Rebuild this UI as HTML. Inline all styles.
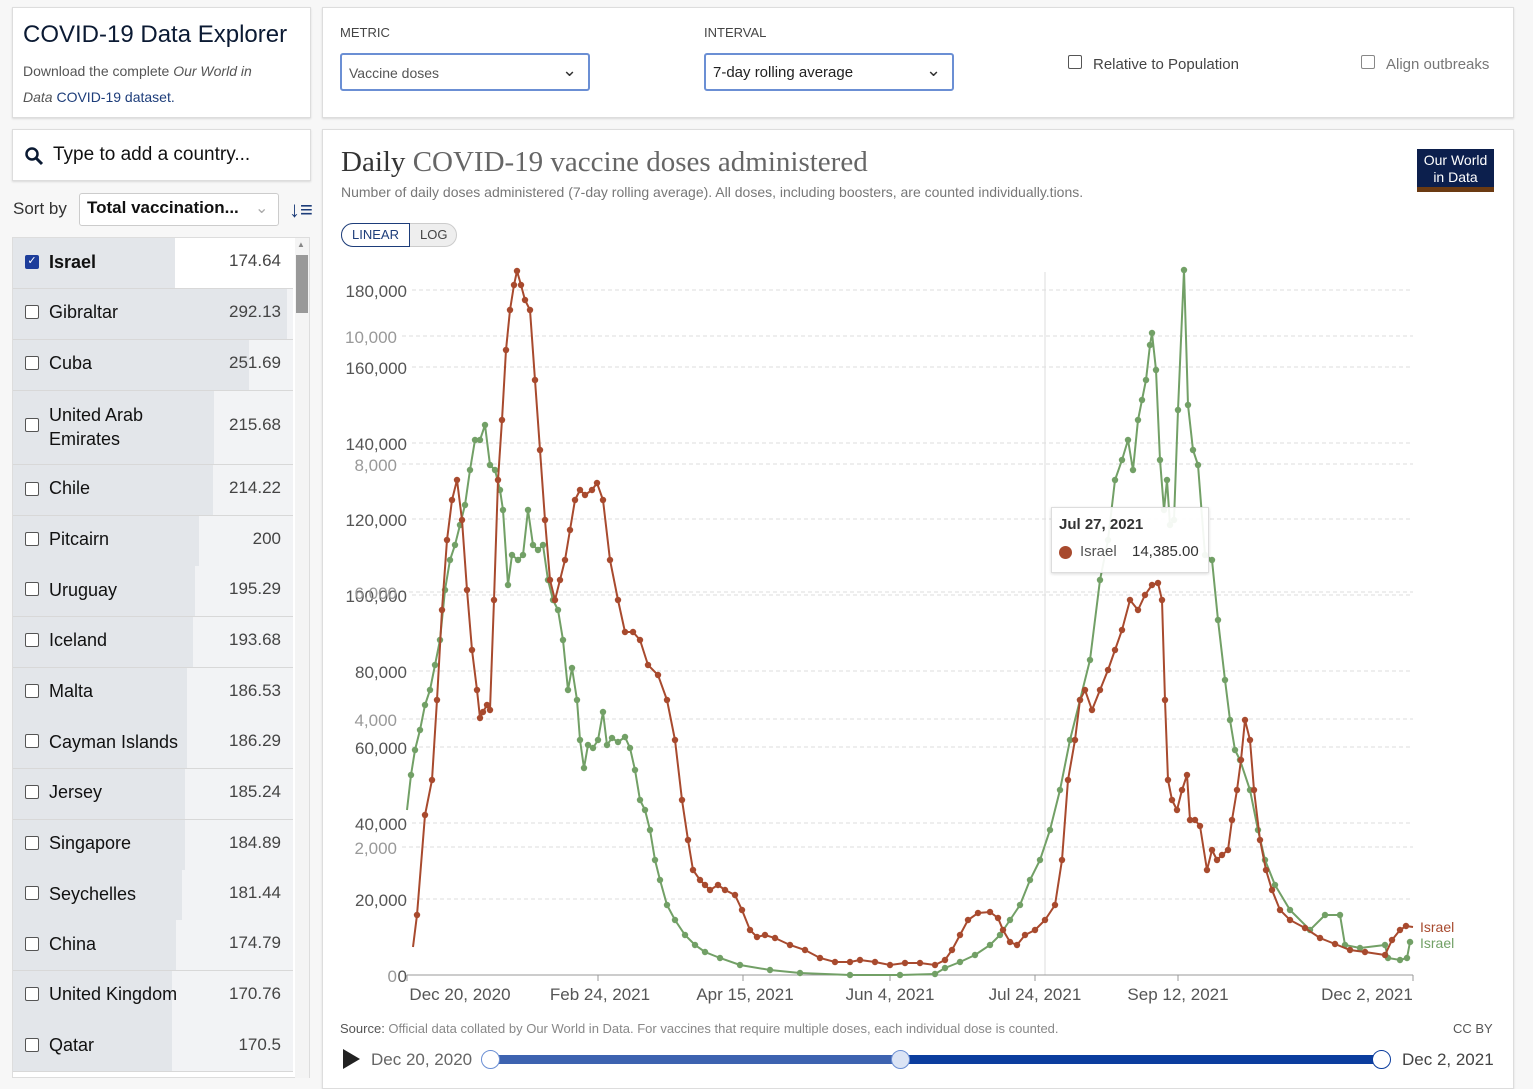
<!DOCTYPE html>
<html><head><meta charset="utf-8"><style>
*{box-sizing:border-box;margin:0;padding:0}
body{width:1533px;height:1078px;background:#f7f7f7;font-family:"Liberation Sans",sans-serif;position:relative;overflow:hidden;color:#222}
.p{position:absolute;background:#fff;border:1px solid #ddd;box-shadow:0 1px 2px rgba(0,0,0,.12)}
.a{position:absolute;white-space:nowrap}
.row{position:absolute;left:13px;width:280px;height:51px;background:#f2f3f5;border-bottom:1px solid #d8d8d8}
.bar{position:absolute;left:0;top:0;height:50px;background:#e3e6ea}
.cb{position:absolute;left:12px;width:14px;height:14px;border:1.5px solid #555;border-radius:2px;background:#fff}
.nm{position:absolute;left:36px;font-size:18px;color:#111}
.vl{position:absolute;right:12px;font-size:17px;color:#444}
.sel{position:absolute;border:2px solid #6b8fd4;border-radius:3px;background:#fff;height:38px}
</style></head><body>
<div class="p" style="left:12px;top:7px;width:299px;height:111px"></div>
<div class="a" style="left:23px;top:21px;font-size:24px;color:#0b1a33">COVID-19 Data Explorer</div>
<div class="a" style="left:23px;top:58px;font-size:14px;color:#555;line-height:26px">Download the complete <i>Our World in</i><br><i>Data</i> <span style="color:#1d3d7a">COVID-19 dataset.</span></div>
<div class="p" style="left:12px;top:129px;width:299px;height:52px"></div>
<svg class="a" style="left:24px;top:146px" width="20" height="20"><circle cx="8" cy="8" r="5.5" stroke="#0b1a33" stroke-width="2.5" fill="none"/><line x1="12" y1="12" x2="18" y2="18" stroke="#0b1a33" stroke-width="3"/></svg>
<div class="a" style="left:53px;top:144px;font-size:19px;color:#111">Type to add a country...</div>
<div class="a" style="left:13px;top:199px;font-size:17px;color:#333">Sort by</div>
<div class="a" style="left:79px;top:193px;width:200px;height:33px;background:#fff;border:1px solid #ccc;border-radius:3px"></div>
<div class="a" style="left:87px;top:198px;font-size:17px;font-weight:bold;color:#111">Total vaccination...</div>
<div class="a" style="left:255px;top:198px;font-size:16px;color:#aaa">&#8964;</div>
<div class="a" style="left:289px;top:197px;font-size:22px;font-weight:bold;color:#1d3d7a">&#8595;&#8801;</div>
<div class="a" style="left:12px;top:237px;width:298px;height:841px;background:#fff;border:1px solid #ddd"></div>
<div class="row" style="top:238px;background:#fff"><div class="bar" style="width:162px"></div><div class="cb" style="top:17px;background:#1d3d9a;border-color:#1d3d9a;color:#fff;font-size:11px;line-height:11px;text-align:center">&#10003;</div><div class="nm" style="top:14px;font-weight:bold">Israel</div><div class="vl" style="top:13px">174.64</div></div>
<div class="row" style="top:289px"><div class="bar" style="width:274px"></div><div class="cb" style="top:16px"></div><div class="nm" style="top:13px">Gibraltar</div><div class="vl" style="top:13px">292.13</div></div>
<div class="row" style="top:340px"><div class="bar" style="width:236px"></div><div class="cb" style="top:16px"></div><div class="nm" style="top:13px">Cuba</div><div class="vl" style="top:13px">251.69</div></div>
<div class="row" style="top:391px;height:74px"><div class="bar" style="width:201px;height:73px"></div><div class="cb" style="top:27px"></div><div class="nm" style="top:12px;line-height:24px">United Arab<br>Emirates</div><div class="vl" style="top:24px">215.68</div></div>
<div class="row" style="top:465px"><div class="bar" style="width:200px"></div><div class="cb" style="top:17px"></div><div class="nm" style="top:13px">Chile</div><div class="vl" style="top:13px">214.22</div></div>
<div class="row" style="top:516px"><div class="bar" style="width:186px"></div><div class="cb" style="top:16px"></div><div class="nm" style="top:13px">Pitcairn</div><div class="vl" style="top:13px">200</div></div>
<div class="row" style="top:566px"><div class="bar" style="width:182px"></div><div class="cb" style="top:16px"></div><div class="nm" style="top:14px">Uruguay</div><div class="vl" style="top:13px">195.29</div></div>
<div class="row" style="top:617px"><div class="bar" style="width:180px"></div><div class="cb" style="top:16px"></div><div class="nm" style="top:13px">Iceland</div><div class="vl" style="top:13px">193.68</div></div>
<div class="row" style="top:668px"><div class="bar" style="width:174px"></div><div class="cb" style="top:16px"></div><div class="nm" style="top:13px">Malta</div><div class="vl" style="top:13px">186.53</div></div>
<div class="row" style="top:718px"><div class="bar" style="width:174px"></div><div class="cb" style="top:16px"></div><div class="nm" style="top:14px">Cayman Islands</div><div class="vl" style="top:13px">186.29</div></div>
<div class="row" style="top:769px"><div class="bar" style="width:172px"></div><div class="cb" style="top:16px"></div><div class="nm" style="top:13px">Jersey</div><div class="vl" style="top:13px">185.24</div></div>
<div class="row" style="top:820px"><div class="bar" style="width:172px"></div><div class="cb" style="top:16px"></div><div class="nm" style="top:13px">Singapore</div><div class="vl" style="top:13px">184.89</div></div>
<div class="row" style="top:870px"><div class="bar" style="width:169px"></div><div class="cb" style="top:16px"></div><div class="nm" style="top:14px">Seychelles</div><div class="vl" style="top:13px">181.44</div></div>
<div class="row" style="top:920px"><div class="bar" style="width:163px"></div><div class="cb" style="top:17px"></div><div class="nm" style="top:14px">China</div><div class="vl" style="top:13px">174.79</div></div>
<div class="row" style="top:971px"><div class="bar" style="width:159px"></div><div class="cb" style="top:16px"></div><div class="nm" style="top:13px">United Kingdom</div><div class="vl" style="top:13px">170.76</div></div>
<div class="row" style="top:1021px"><div class="bar" style="width:159px"></div><div class="cb" style="top:17px"></div><div class="nm" style="top:14px">Qatar</div><div class="vl" style="top:14px">170.5</div></div>
<div class="a" style="left:295px;top:238px;width:14px;height:840px;background:#f4f4f4"></div>
<div class="a" style="left:296px;top:255px;width:12px;height:58px;background:#999"></div>
<div class="a" style="left:297px;top:240px;font-size:8px;color:#888">&#9650;</div>

<div class="p" style="left:322px;top:7px;width:1192px;height:111px"></div>
<div class="a" style="left:340px;top:25px;font-size:13px;color:#444">METRIC</div>
<div class="a" style="left:704px;top:25px;font-size:13px;color:#444">INTERVAL</div>
<div class="sel" style="left:340px;top:53px;width:250px"></div>
<div class="a" style="left:349px;top:65px;font-size:14px;color:#555">Vaccine doses</div>
<div class="a" style="left:562px;top:60px;font-size:18px;color:#333">&#8964;</div>
<div class="sel" style="left:704px;top:53px;width:250px"></div>
<div class="a" style="left:713px;top:64px;font-size:15px;color:#222">7-day rolling average</div>
<div class="a" style="left:926px;top:60px;font-size:18px;color:#333">&#8964;</div>
<div class="a" style="left:1068px;top:55px;width:14px;height:14px;border:1.5px solid #555;border-radius:2px"></div>
<div class="a" style="left:1093px;top:56px;font-size:15px;color:#444">Relative to Population</div>
<div class="a" style="left:1361px;top:55px;width:14px;height:14px;border:1.5px solid #888;border-radius:2px"></div>
<div class="a" style="left:1386px;top:56px;font-size:15px;color:#777">Align outbreaks</div>

<div class="p" style="left:322px;top:129px;width:1192px;height:960px"></div>
<div class="a" style="left:341px;top:146px;font-size:29px;font-family:'Liberation Serif',serif;color:#333">Daily <span style="opacity:.75">COVID-19 vaccine doses administered</span></div>
<div class="a" style="left:341px;top:184px;font-size:14px;color:#777">Number of daily doses administered (7-day rolling average). All doses, including boosters, are counted individually.tions.</div>
<div class="a" style="left:341px;top:223px;width:116px;height:24px;border-radius:12px;background:#eee;border:1px solid #ccc"></div>
<div class="a" style="left:341px;top:223px;width:69px;height:24px;border-radius:12px 0 0 12px;background:#fff;border:1px solid #1d3d7a;font-size:13px;color:#1d3d7a;text-align:center;line-height:22px">LINEAR</div>
<div class="a" style="left:420px;top:227px;font-size:13px;color:#444">LOG</div>
<div class="a" style="left:1417px;top:149px;width:77px;height:43px;background:#0c1f4d;border-bottom:5px solid #6b3a12;color:#fff;font-size:14px;text-align:center;line-height:17px;padding-top:3px">Our World<br>in Data</div>

<svg class="a" style="left:0;top:0" width="1533" height="1078">
<defs>
<marker id="mr" markerWidth="4" markerHeight="4" refX="2" refY="2"><circle cx="2" cy="2" r="1.6" fill="#a84a2e"/></marker>
<marker id="mg" markerWidth="4" markerHeight="4" refX="2" refY="2"><circle cx="2" cy="2" r="1.6" fill="#72a066"/></marker>
</defs>
<g stroke="#ddd" stroke-dasharray="4,3" stroke-width="1">
<line x1="412" y1="290" x2="1413" y2="290"/><line x1="402" y1="336" x2="1413" y2="336"/>
<line x1="412" y1="367" x2="1413" y2="367"/><line x1="412" y1="443" x2="1413" y2="443"/>
<line x1="402" y1="464" x2="1413" y2="464"/><line x1="412" y1="519" x2="1413" y2="519"/>
<line x1="412" y1="595" x2="1413" y2="595"/><line x1="402" y1="592" x2="1413" y2="592"/>
<line x1="412" y1="671" x2="1413" y2="671"/><line x1="402" y1="719" x2="1413" y2="719"/>
<line x1="412" y1="747" x2="1413" y2="747"/><line x1="412" y1="823" x2="1413" y2="823"/>
<line x1="402" y1="847" x2="1413" y2="847"/><line x1="412" y1="899" x2="1413" y2="899"/>
</g>
<line x1="1045" y1="272" x2="1045" y2="975" stroke="#ddd"/>
<line x1="407" y1="975" x2="1413" y2="975" stroke="#999"/>
<g stroke="#999"><line x1="407" y1="975" x2="407" y2="981"/><line x1="598" y1="975" x2="598" y2="981"/><line x1="743" y1="975" x2="743" y2="981"/><line x1="890" y1="975" x2="890" y2="981"/><line x1="1035" y1="975" x2="1035" y2="981"/><line x1="1178" y1="975" x2="1178" y2="981"/><line x1="1413" y1="975" x2="1413" y2="981"/></g>
<g font-family="Liberation Sans" font-size="17" fill="#555" text-anchor="end">
<text x="407" y="297">180,000</text><text x="407" y="374">160,000</text><text x="407" y="450">140,000</text><text x="407" y="526">120,000</text><text x="407" y="602">100,000</text><text x="407" y="678">80,000</text><text x="407" y="754">60,000</text><text x="407" y="830">40,000</text><text x="407" y="906">20,000</text><text x="407" y="982">0</text>
</g>
<g font-family="Liberation Sans" font-size="17" fill="#999" text-anchor="end">
<text x="397" y="343">10,000</text><text x="397" y="471">8,000</text><text x="397" y="599">6,000</text><text x="397" y="726">4,000</text><text x="397" y="854">2,000</text><text x="397" y="982">0</text>
</g>
<g font-family="Liberation Sans" font-size="17" fill="#555" text-anchor="middle">
<text x="460" y="1000">Dec 20, 2020</text><text x="600" y="1000">Feb 24, 2021</text><text x="745" y="1000">Apr 15, 2021</text><text x="890" y="1000">Jun 4, 2021</text><text x="1035" y="1000">Jul 24, 2021</text><text x="1178" y="1000">Sep 12, 2021</text><text x="1367" y="1000">Dec 2, 2021</text>
</g>
<polyline fill="none" stroke="#72a066" stroke-width="2" marker-mid="url(#mg)" points="407,810 411,775 415,750 420,730 425,705 430,690 435,665 440,640 445,590 450,560 455,545 460,525 465,505 470,470 475,440 480,440 485,425 490,465 495,470 500,490 503,510 508,585 512,555 518,560 523,555 528,510 533,545 538,550 543,545 548,580 553,600 558,610 563,640 568,690 572,668 577,700 580,740 584,768 588,745 593,748 598,740 603,712 607,745 612,738 618,742 625,737 630,748 635,770 640,800 645,810 650,830 655,860 660,880 667,905 675,920 685,935 695,945 705,952 720,958 740,965 770,970 800,973 850,975 900,975 935,974 945,968 960,962 975,955 990,945 1000,935 1010,920 1020,905 1030,880 1040,860 1050,830 1060,790 1070,740 1080,700 1090,660 1100,580 1108,540 1115,480 1122,460 1128,440 1133,470 1138,420 1142,400 1146,380 1150,345 1152,333 1156,370 1160,460 1164,510 1167,480 1170,525 1174,520 1178,410 1184,270 1188,405 1193,450 1198,465 1205,555 1212,560 1218,620 1225,680 1230,720 1235,750 1240,760 1250,790 1258,830 1265,860 1275,885 1290,910 1310,930 1325,915 1340,915 1345,945 1360,948 1385,945 1388,958 1400,960 1407,958 1410,942 1413,943"/>
<polyline fill="none" stroke="#a84a2e" stroke-width="2" marker-mid="url(#mr)" points="413,947 417,915 425,815 432,780 437,700 442,610 447,540 452,500 457,480 462,520 467,590 472,650 477,690 480,718 483,712 487,705 490,710 494,600 498,480 502,420 506,350 510,310 514,285 517,271 521,285 525,300 530,310 535,380 540,450 545,520 550,580 555,600 560,580 565,560 570,530 575,500 580,490 585,495 592,490 597,483 603,500 610,560 618,600 625,632 633,632 640,640 648,665 658,675 667,700 675,740 682,800 688,840 693,870 700,880 705,885 710,890 718,885 725,890 735,895 742,910 750,930 757,937 765,935 775,938 790,945 805,950 820,958 835,962 850,962 860,960 875,962 890,965 905,963 920,963 935,965 945,960 952,950 960,935 968,920 978,913 990,912 998,918 1003,930 1010,942 1017,945 1025,935 1035,930 1045,920 1055,905 1062,860 1068,780 1075,740 1080,700 1085,690 1092,710 1100,690 1108,670 1115,650 1122,630 1130,600 1138,610 1145,595 1152,585 1158,583 1162,600 1165,700 1168,780 1172,800 1177,810 1182,790 1187,775 1190,820 1195,820 1200,826 1207,870 1212,850 1217,860 1222,855 1228,850 1232,820 1237,790 1241,760 1245,720 1250,740 1254,790 1260,840 1266,870 1272,890 1280,910 1290,920 1305,928 1320,938 1335,944 1350,950 1365,952 1385,955 1392,940 1400,930 1406,926 1413,927"/>
<text x="1420" y="932" font-family="Liberation Sans" font-size="14" fill="#a84a2e">Israel</text>
<text x="1420" y="948" font-family="Liberation Sans" font-size="14" fill="#72a066">Israel</text>
</svg>
<div class="a" style="left:1051px;top:507px;width:158px;height:66px;background:rgba(255,255,255,.92);border:1px solid #ddd;box-shadow:0 1px 3px rgba(0,0,0,.15)"></div>
<div class="a" style="left:1059px;top:516px;font-size:15px;font-weight:bold;color:#333">Jul 27, 2021</div>
<div class="a" style="left:1059px;top:546px;width:13px;height:13px;border-radius:50%;background:#a84a2e"></div>
<div class="a" style="left:1080px;top:543px;font-size:15px;color:#555">Israel</div>
<div class="a" style="left:1132px;top:543px;font-size:15px;color:#333">14,385.00</div>
<div class="a" style="left:340px;top:1021px;font-size:13px;color:#555">Source: <span style="color:#888">Official data collated by Our World in Data. For vaccines that require multiple doses, each individual dose is counted.</span></div>
<div class="a" style="left:1453px;top:1021px;font-size:13px;color:#555">CC BY</div>
<div class="a" style="left:343px;top:1049px;width:0;height:0;border-left:17px solid #222;border-top:10px solid transparent;border-bottom:10px solid transparent"></div>
<div class="a" style="left:371px;top:1050px;font-size:17px;color:#666">Dec 20, 2020</div>
<div class="a" style="left:490px;top:1055px;width:892px;height:9px;background:#0b3d9e"></div>
<div class="a" style="left:490px;top:1055px;width:410px;height:9px;background:#3d63b0"></div>
<div class="a" style="left:481px;top:1050px;width:19px;height:19px;border-radius:50%;background:#fff;border:1.5px solid #6b8fd4"></div>
<div class="a" style="left:891px;top:1050px;width:19px;height:19px;border-radius:50%;background:#dbe4f5;border:1.5px solid #6b8fd4"></div>
<div class="a" style="left:1372px;top:1050px;width:19px;height:19px;border-radius:50%;background:#fff;border:1.5px solid #0b3d9e"></div>
<div class="a" style="left:1402px;top:1050px;font-size:17px;color:#444">Dec 2, 2021</div>
</body></html>
